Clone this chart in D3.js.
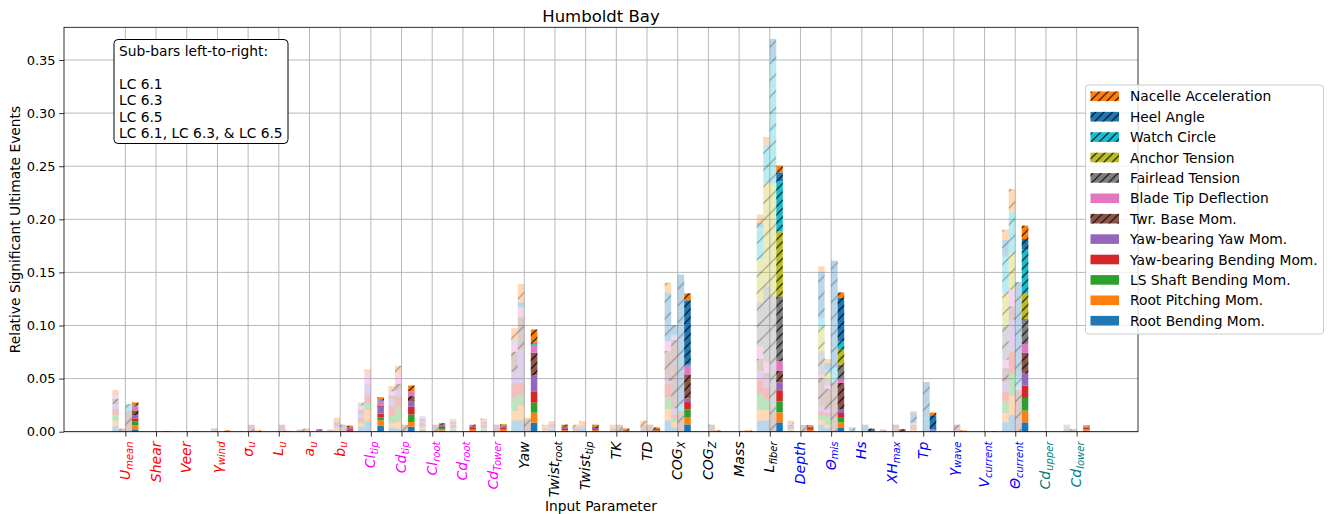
<!DOCTYPE html>
<html><head><meta charset="utf-8">
<script src="https://cdn.jsdelivr.net/npm/d3@7"></script>
<style>body{margin:0;background:#fff;} text{font-family:"DejaVu Sans",sans-serif;}</style>
</head><body><svg id="chart" width="1330" height="514"></svg>
<script>
// ---------------- DATA ----------------
const labelBase = ["U","Shear","Veer","γ","σ","L","a","b","Cl","Cd","Cl","Cd","Cd","Yaw","Twist","Twist","TK","TD","COG","COG","Mass","L","Depth","Θ","Hs","XH","Tp","γ","V","Θ","Cd","Cd"];
const labelSub = ["mean","","","wind","u","u","u","u","tip","tip","root","root","Tower","","root","tip","","","X","Z","","fiber","","mis","","max","","wave","current","current","upper","lower"];
const labelColor = ["red","red","red","red","red","red","red","red","magenta","magenta","magenta","magenta","magenta","black","black","black","black","black","black","black","black","black","blue","blue","blue","blue","blue","blue","blue","blue","teal","teal"];
// stack order bottom -> top
const components = ["Root Bending Mom.","Root Pitching Mom.","LS Shaft Bending Mom.","Yaw-bearing Bending Mom.","Yaw-bearing Yaw Mom.","Twr. Base Mom.","Blade Tip Deflection","Fairlead Tension","Anchor Tension","Watch Circle","Heel Angle","Nacelle Acceleration"];
const componentColors = ["#1f77b4","#ff7f0e","#2ca02c","#d62728","#9467bd","#8c564b","#e377c2","#7f7f7f","#bcbd22","#17becf","#1f77b4","#ff7f0e"];
const componentHatched = [false,false,false,false,false,true,false,true,true,true,true,true];
const yTicks = [0,0.05,0.10,0.15,0.20,0.25,0.30,0.35];
const subBarNotes = ["Sub-bars left-to-right:","","LC 6.1","LC 6.3","LC 6.5","LC 6.1, LC 6.3, & LC 6.5"];

// LC 6.1
const lc61 = [
[0.005,0.0053,0.0056,0.0053,0.005,0.0047,0.0044,0.001,0,0,0,0.003],
[0,0,0,0,0,0,0,0,0,0,0,0],
[0,0,0,0,0,0,0,0,0,0,0,0],
[0,0,0,0,0,0,0,0,0,0,0,0],
[0,0,0,0,0,0,0,0,0,0,0,0],
[0,0,0,0,0,0,0,0,0,0,0,0],
[0,0,0,0,0,0.002,0,0,0,0,0,0],
[0,0,0,0,0,0.002,0,0,0,0,0,0],
[0.0047,0.003,0.002,0.003,0.004,0.004,0.004,0,0,0.002,0,0.0009],
[0.004,0.004,0.007,0.009,0.006,0.004,0.004,0.002,0,0,0,0.003],
[0.002,0.002,0.002,0.002,0.002,0.002,0.0014,0,0,0.001,0,0],
[0.0015,0.0015,0.0015,0.0015,0.0015,0.002,0.001,0,0,0,0,0.0015],
[0.0015,0.0015,0.0015,0.0015,0.0015,0.002,0.001,0,0,0,0,0.0018],
[0.0107,0.0088,0.0132,0.0129,0.0107,0.019,0.0088,0,0,0.002,0,0.0113],
[0.001,0.001,0,0,0.002,0,0,0,0,0,0,0.0026],
[0,0,0,0,0,0.004,0,0,0,0,0,0.0026],
[0,0,0,0,0,0,0,0,0,0,0,0],
[0,0,0,0,0,0,0,0,0,0,0,0],
[0.0107,0.0104,0.0116,0.0129,0.0022,0.0283,0.0094,0,0,0,0.0455,0.0094],
[0,0,0,0,0,0,0,0,0,0,0,0],
[0,0,0,0,0,0,0,0,0,0,0,0],
[0.0104,0.0104,0.0148,0.0129,0.0091,0.011,0.011,0.0424,0.0408,0.0292,0.0047,0.0078],
[0.001,0.0015,0.001,0.001,0.001,0.001,0.001,0.0005,0,0,0,0.0024],
[0.0066,0.0041,0.0044,0.0041,0.0047,0.0267,0.0031,0.022,0.022,0.0094,0.043,0.0056],
[0.0005,0,0,0,0,0,0,0,0,0,0.0035,0],
[0,0,0,0,0,0.002,0,0,0,0,0,0],
[0.001,0.001,0.0005,0.001,0.001,0.002,0.002,0,0,0,0.0095,0.0015],
[0,0,0,0,0,0,0,0,0,0,0,0],
[0,0,0,0,0,0,0,0,0,0,0,0],
[0.0088,0.0088,0.011,0.0094,0.0094,0.0126,0.0078,0.0314,0.0314,0.0345,0.0157,0.0094],
[0,0,0,0,0,0,0,0,0,0,0,0],
[0.002,0.001,0.001,0,0,0,0.001,0,0,0.001,0,0.0006]
];
// LC 6.3
const lc63 = [
[0,0,0,0,0,0.0025,0,0,0,0,0,0.0005],
[0,0,0,0,0,0,0,0,0,0,0,0],
[0,0,0,0,0,0,0,0,0,0,0,0],
[0,0,0,0,0.001,0.002,0,0,0,0,0,0],
[0,0,0,0,0,0,0,0,0,0,0,0],
[0,0,0,0,0,0,0,0,0,0,0,0],
[0,0,0,0,0,0.0025,0,0,0,0,0,0.0005],
[0.001,0.002,0,0,0.002,0.004,0.001,0,0,0,0,0.003],
[0.010,0.0104,0.0069,0.0069,0.0104,0,0.011,0,0,0,0,0.0031],
[0.003,0.006,0.014,0.010,0.006,0.006,0.010,0,0,0,0,0.007],
[0,0,0,0,0,0,0,0,0,0,0,0],
[0,0,0,0,0,0,0,0,0,0,0,0],
[0,0,0,0,0,0,0,0,0,0,0,0],
[0.0107,0.014,0.0104,0.0107,0.031,0.031,0.0094,0,0,0,0.0047,0.0173],
[0.002,0.001,0,0,0.002,0.002,0,0,0,0,0,0.003],
[0.003,0,0,0,0.003,0,0,0,0,0,0,0.004],
[0,0,0,0,0,0.003,0,0,0,0,0,0.0036],
[0,0,0,0,0,0.0064,0,0,0,0,0,0.004],
[0.004,0.005,0.004,0.003,0.006,0.0645,0.003,0,0,0.002,0.009,0],
[0,0,0,0,0,0,0,0,0,0,0,0],
[0,0,0,0,0,0,0,0,0,0,0,0],
[0.0107,0.0094,0.01,0.011,0.0094,0.0047,0.01,0.0723,0.0972,0.0353,0,0.0075],
[0,0,0,0,0,0,0,0,0,0,0,0],
[0.0035,0.003,0.008,0.003,0.003,0.020,0.003,0.006,0.006,0.003,0.006,0.004],
[0,0,0,0,0,0,0,0,0,0,0,0],
[0,0,0,0,0,0,0,0,0,0,0,0],
[0,0,0,0,0,0,0,0,0,0,0,0],
[0,0,0,0,0,0,0,0,0,0,0,0],
[0,0,0,0,0,0,0,0,0,0,0,0],
[0.016,0.0179,0.0207,0.021,0.03,0.0124,0.0157,0,0.0345,0.039,0,0.0213],
[0,0,0,0,0,0,0,0,0,0,0,0],
[0,0,0,0,0,0.0025,0,0,0,0,0,0]
];
// LC 6.5
const lc65 = [
[0,0,0,0,0,0.0195,0,0,0,0.0066,0,0],
[0,0,0,0,0,0,0,0,0,0,0,0],
[0,0,0,0,0,0,0,0,0,0,0,0],
[0,0,0,0,0,0,0,0,0,0,0,0],
[0,0,0,0,0,0.0066,0,0,0,0,0,0],
[0,0,0,0,0,0.0066,0,0,0,0,0,0],
[0,0,0,0,0,0,0,0,0,0,0,0],
[0,0,0,0,0,0.0066,0,0,0,0,0,0],
[0,0,0,0,0,0,0,0,0,0,0,0],
[0,0,0,0,0,0.0066,0,0,0,0,0,0],
[0,0,0,0,0,0.0066,0,0,0,0,0,0],
[0,0,0,0,0,0,0,0,0,0,0,0],
[0,0,0,0,0,0.0066,0,0,0,0,0,0],
[0,0,0,0,0,0.012,0,0,0,0,0,0.001],
[0,0,0,0,0,0,0,0,0,0,0,0],
[0,0,0,0,0,0,0,0,0,0,0,0],
[0,0,0,0,0,0.0066,0,0,0,0,0,0],
[0,0,0,0,0,0.0066,0,0,0,0,0,0],
[0,0,0,0,0,0.0195,0,0,0,0.0063,0.1222,0],
[0,0,0,0,0,0.0066,0,0,0,0,0,0],
[0,0,0,0,0,0.001,0,0,0,0,0,0],
[0,0,0,0,0,0.0191,0,0.1083,0.1066,0.117,0.0188,0],
[0,0,0,0,0,0.0063,0,0,0,0,0,0],
[0,0,0,0,0,0.0465,0,0,0,0.0135,0.101,0],
[0,0,0,0,0,0.001,0,0,0,0,0.0056,0],
[0,0,0,0,0,0.0066,0,0,0,0,0,0],
[0.012,0,0,0,0,0,0,0,0,0.001,0.0338,0],
[0,0,0,0,0,0.0066,0,0,0,0,0,0],
[0,0,0,0,0,0,0,0,0,0,0,0.0005],
[0,0,0,0,0,0.0395,0.002,0,0,0.010,0.0895,0],
[0,0,0,0,0,0,0,0,0,0,0,0],
[0,0,0,0,0,0,0,0,0,0,0,0]
];
// LC 6.1, LC 6.3 & LC 6.5
const lcAll = [
[0.0022,0.0038,0.0038,0.0028,0.0028,0.0047,0.0038,0,0,0.0009,0,0.0028],
[0,0,0,0,0,0,0,0,0,0,0,0.0005],
[0,0,0,0,0,0,0,0,0,0,0,0.0005],
[0,0,0,0,0,0,0,0,0,0,0,0.001],
[0,0,0,0,0,0,0,0,0,0,0,0.001],
[0,0,0,0,0,0,0,0,0,0,0,0.0008],
[0,0.0005,0,0.0005,0.001,0,0,0,0,0,0,0.0005],
[0.0005,0,0,0.001,0.0027,0,0,0,0,0,0,0.0014],
[0.0053,0.0055,0.0025,0.0038,0.0063,0.0013,0.0047,0,0,0,0.0005,0.0025],
[0.0047,0.0044,0.0072,0.0072,0.0053,0.0047,0.0047,0,0,0,0,0.0053],
[0.001,0.0015,0.001,0.001,0.0015,0.001,0,0,0,0,0,0.001],
[0.0005,0.0015,0,0.0015,0.0015,0.0006,0,0,0,0,0,0.001],
[0.0005,0.0015,0,0.0015,0.0015,0.001,0,0,0,0,0,0.001],
[0.0085,0.0094,0.0094,0.0107,0.015,0.0213,0.0075,0,0,0.0019,0,0.0126],
[0.0005,0.001,0,0.001,0.0015,0.001,0,0,0,0,0,0.0016],
[0.0005,0.001,0,0.001,0.001,0.0015,0,0,0,0,0,0.0016],
[0,0.001,0,0,0,0.001,0,0,0,0,0,0.001],
[0,0.001,0,0,0,0.0015,0,0,0,0,0,0.0015],
[0.0069,0.0069,0.0072,0.0069,0.0035,0.0226,0.0078,0,0,0.0016,0.0603,0.0066],
[0,0,0,0,0,0,0,0,0,0,0,0.001],
[0,0,0,0,0,0,0,0,0,0,0,0.001],
[0.0088,0.0094,0.0104,0.0104,0.0075,0.011,0.0088,0.0612,0.0612,0.047,0.0085,0.0063],
[0.0005,0.001,0.001,0.001,0.001,0.0005,0,0,0,0,0,0.001],
[0.0035,0.0053,0.005,0.0038,0.0038,0.0245,0.0031,0.0141,0.0141,0.0078,0.0414,0.0047],
[0,0,0,0,0,0,0,0,0,0,0.0025,0.0005],
[0,0,0,0,0,0.0015,0,0,0,0,0,0.001],
[0.001,0,0,0,0.0005,0,0.0005,0,0,0,0.0135,0.0025],
[0,0,0,0,0,0,0,0,0,0,0,0.001],
[0,0,0,0,0,0,0,0,0,0,0,0.0005],
[0.0088,0.011,0.012,0.0116,0.0113,0.0195,0.0085,0.0235,0.0238,0.0414,0.01,0.0126],
[0,0,0,0,0,0,0,0,0,0,0,0],
[0.001,0.0015,0,0.0015,0.001,0,0,0,0,0,0,0.001]
];

// ---------------- DRAW ----------------
const svg = d3.select("#chart");
const L = 64, R = 1138, T = 27.3, B = 431.7;
const x = d3.scaleLinear().domain([-2, 33]).range([L, R]);
const y = d3.scaleLinear().domain([0, 0.3808]).range([B, T]);
const bw = 0.2125;

const defs = svg.append("defs");
function hatchPattern(id, P, color, op) {
  const p = defs.append("pattern").attr("id", id).attr("patternUnits", "userSpaceOnUse")
    .attr("width", P).attr("height", P);
  p.append("path")
    .attr("d", `M0,${P} L${P},0 M${-P/2},${P/2} L${P/2},${-P/2} M${P/2},${1.5*P} L${1.5*P},${P/2}`)
    .attr("stroke", color).attr("stroke-opacity", op).attr("stroke-width", 1.1).attr("fill", "none");
}
hatchPattern("hatchFull", 8.33, "#000", 1);
hatchPattern("hatchFaded", 16.67, "#000", 0.35);
hatchPattern("hatchLegend", 8.33, "#000", 1);

// grid
const grid = svg.append("g");
grid.selectAll("line.gy").data(yTicks).join("line")
  .attr("x1", L).attr("x2", R).attr("y1", d => y(d)).attr("y2", d => y(d))
  .attr("stroke", "#b0b0b0").attr("stroke-width", 0.9);
grid.selectAll("line.gx").data(d3.range(labelBase.length)).join("line")
  .attr("x1", d => x(d)).attr("x2", d => x(d)).attr("y1", T).attr("y2", B)
  .attr("stroke", "#b0b0b0").attr("stroke-width", 0.9);

// bars
const datasets = [lc61, lc63, lc65, lcAll];
const stack = d3.stack().keys(d3.range(components.length)).value((row, k) => row[k]);
const barsG = svg.append("g");
datasets.forEach((ds, k) => {
  const series = stack(ds);
  const faded = k < 3;
  series.forEach((s, j) => {
    s.forEach((seg, i) => {
      const y0 = seg[0], y1 = seg[1];
      if (y1 - y0 <= 0) return;
      const cx = i + (k - 1.5) * bw;
      const rx = x(cx - bw / 2), rw = x(cx + bw / 2) - x(cx - bw / 2);
      const ry = y(y1), rh = y(y0) - y(y1);
      barsG.append("rect").attr("x", rx).attr("y", ry).attr("width", rw).attr("height", rh)
        .attr("fill", componentColors[j]).attr("fill-opacity", faded ? 0.3 : 1);
      if (componentHatched[j]) {
        barsG.append("rect").attr("x", rx).attr("y", ry).attr("width", rw).attr("height", rh)
          .attr("fill", faded ? "url(#hatchFaded)" : "url(#hatchFull)");
      }
    });
  });
});

// axes
const yAxis = d3.axisLeft(y).tickValues(yTicks).tickFormat(d3.format(".2f")).tickSize(4.9).tickPadding(3.5);
const gy = svg.append("g").attr("transform", `translate(${L},0)`).call(yAxis);
gy.select(".domain").remove();
gy.selectAll("text").attr("font-size", "13px").attr("font-family", "DejaVu Sans").attr("fill", "#000");
gy.selectAll("line").attr("stroke", "#000").attr("stroke-width", 0.8);

const xAxis = d3.axisBottom(x).tickValues(d3.range(labelBase.length)).tickFormat("").tickSize(4.9);
const gx = svg.append("g").attr("transform", `translate(0,${B})`).call(xAxis);
gx.select(".domain").remove();
gx.selectAll("line").attr("stroke", "#000").attr("stroke-width", 0.8);

// x tick labels
const tl = svg.append("g");
labelBase.forEach((b, i) => {
  const t = tl.append("text")
    .attr("transform", `translate(${x(i)},${B + 9.8}) rotate(-90)`)
    .attr("text-anchor", "end").attr("dy", "0.32em")
    .attr("font-size", "14px").attr("font-style", "italic").attr("fill", labelColor[i]);
  t.append("tspan").text(b);
  if (labelSub[i]) t.append("tspan").attr("font-size", "10px").attr("dy", "0.28em").text(labelSub[i]);
});

// spines
svg.append("rect").attr("x", L).attr("y", T).attr("width", R - L).attr("height", B - T)
  .attr("fill", "none").attr("stroke", "#000").attr("stroke-width", 0.8);

// title & axis labels
svg.append("text").attr("x", (L + R) / 2).attr("y", 22).attr("text-anchor", "middle")
  .attr("font-size", "16.5px").text("Humboldt Bay");
svg.append("text").attr("x", (L + R) / 2).attr("y", 511).attr("text-anchor", "middle")
  .attr("font-size", "13.8px").text("Input Parameter");
svg.append("text").attr("transform", `translate(20,${(T + B) / 2}) rotate(-90)`).attr("text-anchor", "middle")
  .attr("font-size", "13.8px").text("Relative Significant Ultimate Events");

// note box
svg.append("rect").attr("x", 114).attr("y", 39.5).attr("width", 174).attr("height", 104)
  .attr("rx", 4).attr("fill", "#fff").attr("stroke", "#000").attr("stroke-width", 1);
const noteY = [56, 72.4, 88.8, 105.2, 121.6, 138];
subBarNotes.forEach((s, i) => {
  if (!s) return;
  svg.append("text").attr("x", 119).attr("y", noteY[i]).attr("font-size", "13.8px").text(s);
});

// legend
const lg = svg.append("g");
lg.append("rect").attr("x", 1085.5).attr("y", 85).attr("width", 238).attr("height", 249)
  .attr("rx", 3).attr("fill", "#fff").attr("fill-opacity", 0.8).attr("stroke", "#ccc").attr("stroke-width", 1);
const legendOrder = d3.range(components.length).reverse();
legendOrder.forEach((j, r) => {
  const cy = 96.3 + r * 20.4;
  lg.append("rect").attr("x", 1090.5).attr("y", cy - 4.8).attr("width", 28.5).attr("height", 9.6)
    .attr("fill", componentColors[j]);
  if (componentHatched[j]) lg.append("rect").attr("x", 1090.5).attr("y", cy - 4.8).attr("width", 28.5).attr("height", 9.6)
    .attr("fill", "url(#hatchLegend)");
  lg.append("text").attr("x", 1130).attr("y", cy + 5).attr("font-size", "13.8px").text(components[j]);
});
</script>
</body></html>
